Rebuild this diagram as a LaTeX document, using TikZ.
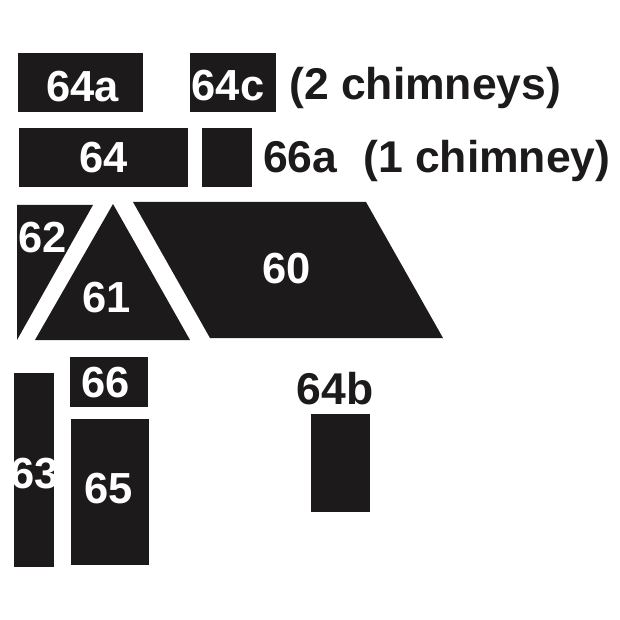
\documentclass[tikz,border=0pt]{standalone}
\usepackage{fontspec}
\setmainfont{Liberation Sans}
\definecolor{ink}{RGB}{28,26,27}
\begin{document}
\begin{tikzpicture}[x=1pt,y=-1pt,
  blk/.style={fill=ink},
  bigfont/.style={font=\bfseries\fontsize{43.5}{50}\selectfont},
  sidefont/.style={font=\bfseries\fontsize{44.5}{50}\selectfont},
  wlab/.style={bigfont,text=white,anchor=base,inner sep=0pt},
  klab/.style={sidefont,text=ink,anchor=base west,inner sep=0pt}]
\useasboundingbox[fill=white] (0,0) rectangle (620,620);
% row 1
\fill[blk] (18,53) rectangle (143,112);
\fill[blk] (190,53) rectangle (276,112);
\node[wlab] (t64a) at (82.5,101.5) {64a};
\node[wlab] (t64c) at (228,101) {64c};
\node[klab] (t2ch) at (289,100) {(2 chimneys)};
% row 2
\fill[blk] (19,128) rectangle (188,187);
\fill[blk] (202,128) rectangle (252,187);
\node[wlab] (t64) at (103.5,173) {64};
\node[klab] (t66a) at (263,173) {66a};
\node[klab] (t1ch) at (363,173) {(1 chimney)};
% roof shapes
\fill[blk] (17,205) -- (93,205) -- (17,340) -- cycle;
\fill[blk] (113,204) -- (190,340) -- (35,340) -- cycle;
\fill[blk] (133,202) -- (366,202) -- (443,338) -- (210,338) -- cycle;
\node[wlab] (t62) at (42.5,252) {62};
\node[wlab] (t61) at (107,312) {61};
\node[wlab] (t60) at (287,283) {60};
% lower blocks
\fill[blk] (14,373) rectangle (54,567);
\fill[blk] (70,357) rectangle (148,407);
\fill[blk] (71,419) rectangle (149,565);
\fill[blk] (311,414) rectangle (370,512);
\node[wlab] (t63) at (34.5,488) {63};
\node[wlab] (t66) at (106,397) {66};
\node[wlab] (t65) at (108.5,503) {65};
\node[klab,anchor=base] (t64b) at (335,404) {64b};
\end{tikzpicture}
\end{document}
